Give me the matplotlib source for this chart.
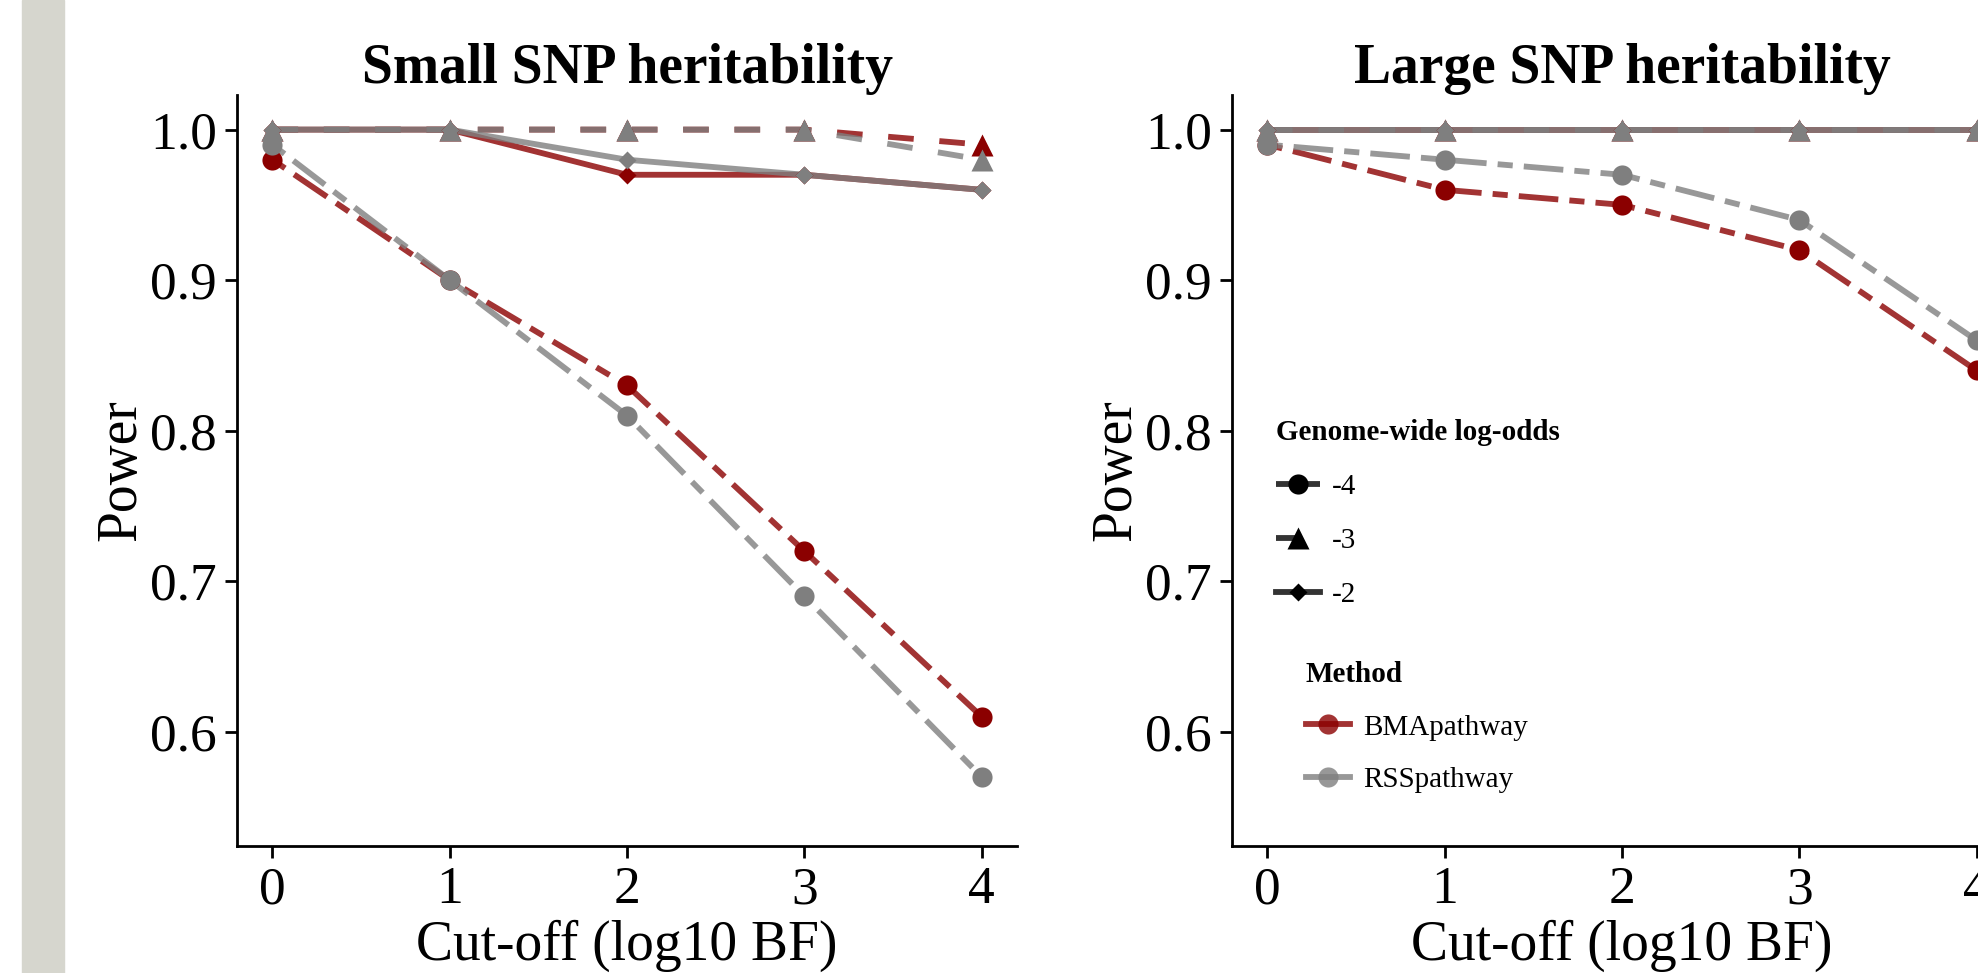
import matplotlib
matplotlib.use("Agg")
import matplotlib.pyplot as plt
from matplotlib.lines import Line2D
from matplotlib.patches import Rectangle

plt.rcParams["font.family"] = ["Liberation Serif", "DejaVu Serif"]

# %% data
cutoff = [0, 1, 2, 3, 4]
log_odds = ["-4", "-3", "-2"]
methods = ["BMApathway", "RSSpathway"]

small_bma_m4 = [0.98, 0.90, 0.83, 0.72, 0.61]
small_rss_m4 = [0.99, 0.90, 0.81, 0.69, 0.57]
small_bma_m3 = [1.00, 1.00, 1.00, 1.00, 0.99]
small_rss_m3 = [1.00, 1.00, 1.00, 1.00, 0.98]
small_bma_m2 = [1.00, 1.00, 0.97, 0.97, 0.96]
small_rss_m2 = [1.00, 1.00, 0.98, 0.97, 0.96]

large_bma_m4 = [0.99, 0.96, 0.95, 0.92, 0.84]
large_rss_m4 = [0.99, 0.98, 0.97, 0.94, 0.86]
large_bma_m3 = [1.00, 1.00, 1.00, 1.00, 1.00]
large_rss_m3 = [1.00, 1.00, 1.00, 1.00, 1.00]
large_bma_m2 = [1.00, 1.00, 1.00, 1.00, 1.00]
large_rss_m2 = [1.00, 1.00, 1.00, 1.00, 1.00]

# %% styles
LW = 4.2
colors = {"BMApathway": "#8b0000", "RSSpathway": "#7f7f7f"}
styles = {
    "-4": dict(ls=(0, (2.6, 1.9, 6.8, 1.9)), marker="o", ms=14.5),
    "-3": dict(ls=(0, (4.4, 4.4)), marker="^", ms=16.5),
    "-2": dict(ls="-", marker="D", ms=9.5),
}


def draw_panel(ax, series, title):
    # lines first, points on top (like ggplot layers)
    for method, lo, y in series:
        st = styles[lo]
        ax.plot(cutoff, y, color=colors[method], alpha=0.8, lw=LW,
                linestyle=st["ls"], zorder=2)
    for method, lo, y in series:
        st = styles[lo]
        ax.plot(cutoff, y, linestyle="none", marker=st["marker"],
                ms=st["ms"], color=colors[method], mec="none", zorder=3)
    ax.set_xlim(-0.2, 4.2)
    ax.set_ylim(0.524, 1.023)
    ax.set_xticks(cutoff)
    ax.set_yticks([0.6, 0.7, 0.8, 0.9, 1.0])
    ax.set_yticklabels(["0.6", "0.7", "0.8", "0.9", "1.0"])
    for s in ["top", "right"]:
        ax.spines[s].set_visible(False)
    for s in ["left", "bottom"]:
        ax.spines[s].set_linewidth(2.0)
    ax.tick_params(labelsize=38.5, length=8.5, width=2.0, pad=6)
    ax.set_title(title, fontsize=40, fontweight="bold", pad=2)
    ax.set_xlabel("Cut-off (log10 BF)", fontsize=40, labelpad=4)
    ax.set_ylabel("Power", fontsize=40, labelpad=2)


fig = plt.figure(figsize=(19.78, 9.73), dpi=100)
fig.patches.append(Rectangle((22 / 1978, 0), 42 / 1978, 1,
                             transform=fig.transFigure, color="#d6d6ce",
                             zorder=0))

ax1 = fig.add_axes([237 / 1978, 127 / 973, 780 / 1978, 751 / 973])
ax2 = fig.add_axes([1232 / 1978, 127 / 973, 780 / 1978, 751 / 973])

draw_panel(ax1, [
    ("BMApathway", "-4", small_bma_m4), ("BMApathway", "-3", small_bma_m3),
    ("BMApathway", "-2", small_bma_m2), ("RSSpathway", "-4", small_rss_m4),
    ("RSSpathway", "-3", small_rss_m3), ("RSSpathway", "-2", small_rss_m2),
], "Small SNP heritability")
draw_panel(ax2, [
    ("BMApathway", "-4", large_bma_m4), ("BMApathway", "-3", large_bma_m3),
    ("BMApathway", "-2", large_bma_m2), ("RSSpathway", "-4", large_rss_m4),
    ("RSSpathway", "-3", large_rss_m3), ("RSSpathway", "-2", large_rss_m2),
], "Large SNP heritability")

# %% legends
h_lo = [Line2D([], [], color="#333333", lw=LW, linestyle=styles[k]["ls"],
               marker=styles[k]["marker"], ms=styles[k]["ms"],
               mfc="black", mec="none") for k in log_odds]
leg1 = fig.legend(h_lo, log_odds, title="Genome-wide log-odds",
                  loc="upper left", bbox_to_anchor=(1276 / 1978, 1 - 419 / 973),
                  frameon=False, fontsize=21, alignment="left",
                  title_fontproperties={"weight": "bold", "size": 21},
                  handlelength=1.5, handletextpad=0.4, labelspacing=0.95,
                  borderpad=0, borderaxespad=0)
h_m = [Line2D([], [], color=colors[m], alpha=0.8, lw=LW, marker="o",
              ms=14.5, mfc=colors[m], mec="none") for m in methods]
leg2 = fig.legend(h_m, methods, title="Method",
                  loc="upper left", bbox_to_anchor=(1306 / 1978, 1 - 661 / 973),
                  frameon=False, fontsize=21, alignment="left",
                  title_fontproperties={"weight": "bold", "size": 21},
                  handlelength=1.5, handletextpad=0.45, labelspacing=0.9,
                  borderpad=0, borderaxespad=0)

fig.savefig("out.png", dpi=100)
